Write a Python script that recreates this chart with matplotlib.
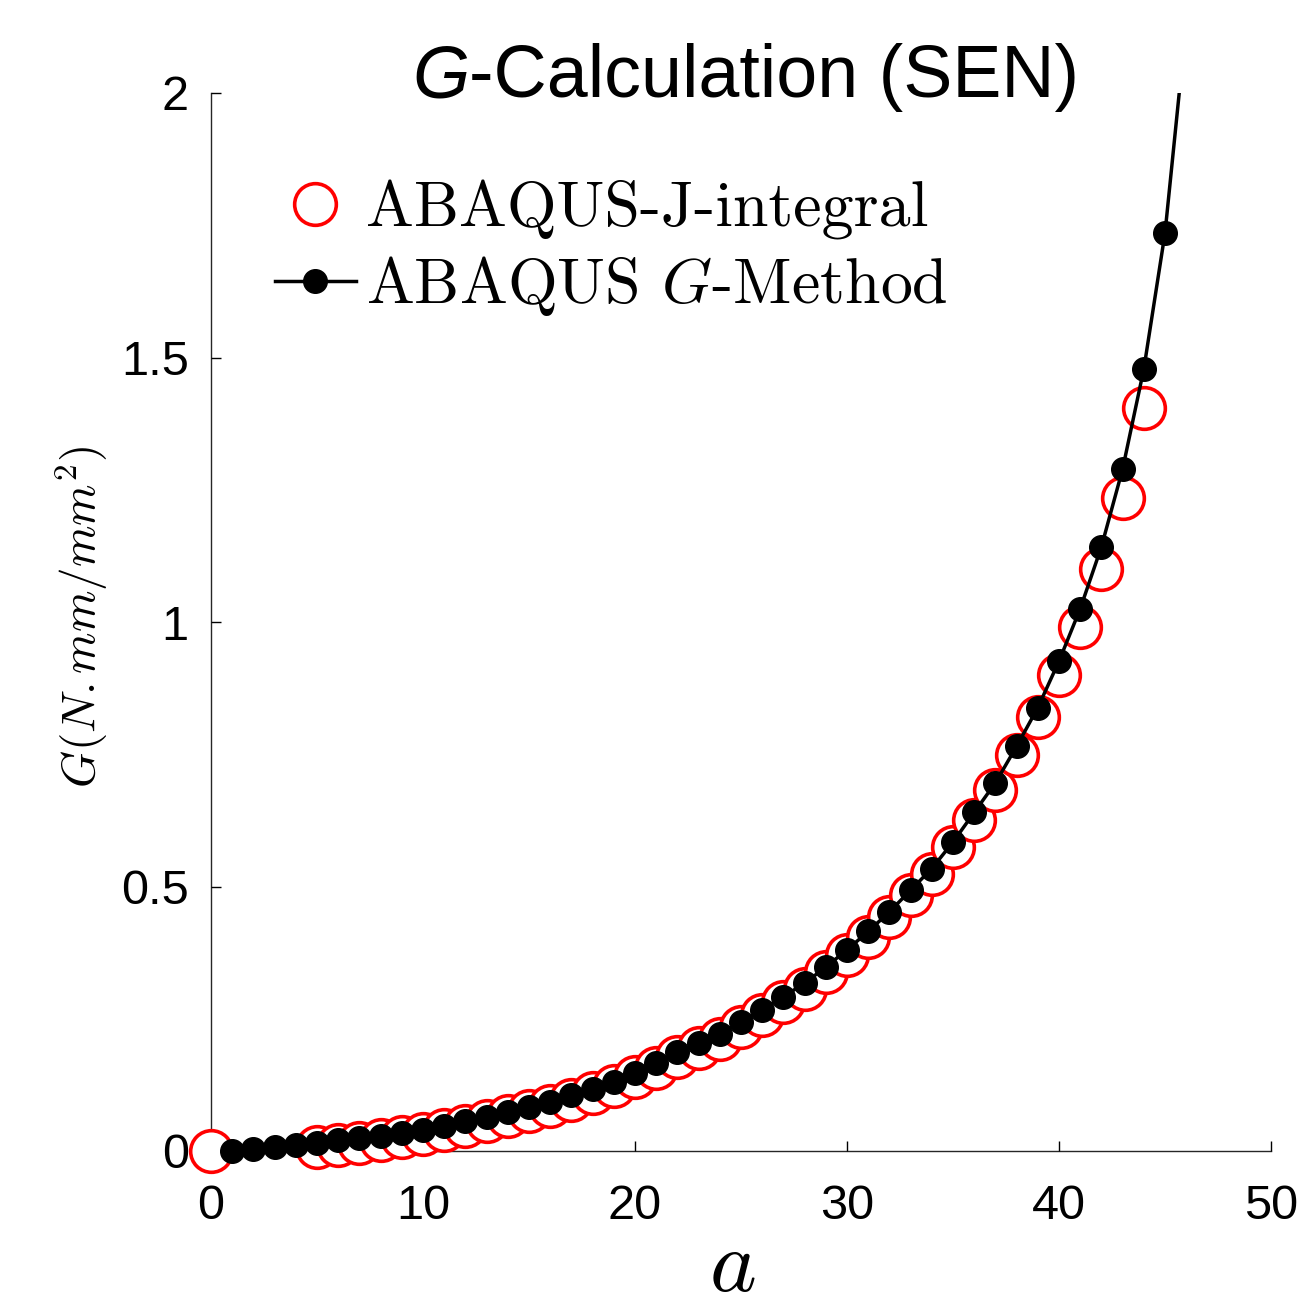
import matplotlib
matplotlib.use("Agg")
import matplotlib.pyplot as plt
from matplotlib.lines import Line2D

plt.rcParams['mathtext.fontset'] = 'cm'

# ---- data ----
j_a = [0, 5, 6, 7, 8, 9, 10, 11, 12, 13, 14, 15, 16, 17, 18, 19, 20, 21, 22, 23, 24,
       25, 26, 27, 28, 29, 30, 31, 32, 33, 34, 35, 36, 37, 38, 39, 40, 41, 42, 43, 44]
j_G = [0.000, 0.008, 0.012, 0.016, 0.020, 0.026, 0.032, 0.040, 0.048, 0.057, 0.066,
       0.075, 0.085, 0.097, 0.109, 0.122, 0.139, 0.156, 0.177, 0.194, 0.212, 0.234,
       0.257, 0.282, 0.307, 0.338, 0.370, 0.405, 0.442, 0.483, 0.524, 0.575, 0.626,
       0.682, 0.749, 0.821, 0.900, 0.991, 1.101, 1.234, 1.404]

g_a = [1, 2, 3, 4, 5, 6, 7, 8, 9, 10, 11, 12, 13, 14, 15, 16, 17, 18, 19, 20, 21, 22,
       23, 24, 25, 26, 27, 28, 29, 30, 31, 32, 33, 34, 35, 36, 37, 38, 39, 40, 41, 42,
       43, 44, 45]
g_G = [0.000, 0.004, 0.007, 0.012, 0.016, 0.020, 0.024, 0.028, 0.034, 0.040, 0.048,
       0.056, 0.065, 0.074, 0.083, 0.093, 0.105, 0.117, 0.130, 0.147, 0.166, 0.187,
       0.204, 0.222, 0.244, 0.267, 0.292, 0.317, 0.348, 0.380, 0.415, 0.452, 0.493,
       0.534, 0.584, 0.640, 0.696, 0.765, 0.838, 0.926, 1.025, 1.142, 1.289, 1.478,
       1.735]
# continuation of the G-method curve beyond the plotted range (line only)
g_line_a = g_a + [46]
g_line_G = g_G + [2.13]

x_ticks = [0, 10, 20, 30, 40, 50]
y_ticks = [0, 0.5, 1, 1.5, 2]
y_ticklabels = ['0', '0.5', '1', '1.5', '2']

W, H = 1302, 1312
fig = plt.figure(figsize=(W / 100, H / 100), dpi=100)
ax = fig.add_axes([211 / W, 1 - 1151 / H, 1060 / W, (1151 - 93) / H])

ax.plot(j_a, j_G, linestyle='none', marker='o', markersize=30, markerfacecolor='white',
        markeredgecolor='red', markeredgewidth=2.6, clip_on=False, zorder=3)
ax.plot(g_line_a, g_line_G, color='black', linewidth=2.5, zorder=4)
ax.plot(g_a, g_G, linestyle='none', marker='o', markersize=17, color='black',
        clip_on=False, zorder=5)

ax.set_xlim(0, 50)
ax.set_ylim(0, 2)
ax.set_xticks(x_ticks)
ax.set_yticks(y_ticks)
ax.set_yticklabels(y_ticklabels)

for s in ['top', 'right']:
    ax.spines[s].set_visible(False)
for s in ['left', 'bottom']:
    ax.spines[s].set_color('#262626')
    ax.spines[s].set_linewidth(1.0)
    ax.spines[s].set_zorder(1)

for lab in ax.get_xticklabels() + ax.get_yticklabels():
    lab.set_family('Liberation Sans')
ax.tick_params(axis='both', direction='in', length=7, width=1, colors='black',
               labelsize=35)
ax.tick_params(axis='x', pad=24)
ax.tick_params(axis='y', pad=16)

# legend
h1 = Line2D([], [], linestyle='none', marker='o', markersize=30, markerfacecolor='white',
            markeredgecolor='red', markeredgewidth=2.6)
h2 = Line2D([], [], color='black', linewidth=2.5, marker='o', markersize=17)
leg = ax.legend([h1, h2], ['ABAQUS-J-integral', r'ABAQUS $G$-Method'],
                loc='upper left', bbox_to_anchor=(275 / W, 1 - 180 / H),
                bbox_transform=fig.transFigure, frameon=False, borderpad=0,
                borderaxespad=0, handlelength=1.26, handletextpad=0.16,
                labelspacing=0.22, prop={'family': 'cmr10', 'size': 46})

# title
t1 = fig.text(412 / W, 1 - 97 / H, 'G', family='Liberation Sans', style='italic',
              size=53, va='baseline', ha='left')
fig.canvas.draw()
ax.annotate('-Calculation (SEN)', xy=(1, 0), xycoords=t1, va='bottom', ha='left',
            family='Liberation Sans', size=53, annotation_clip=False)

# axis labels
fig.text(82 / W, 1 - 617 / H, r'$G(N.mm/mm^2)$', rotation=90, ha='center',
         va='center', size=34)
fig.text(732 / W, 1 - 1310 / H, r'$a$', ha='center', va='bottom', size=64)

fig.savefig('out.png', dpi=100)
